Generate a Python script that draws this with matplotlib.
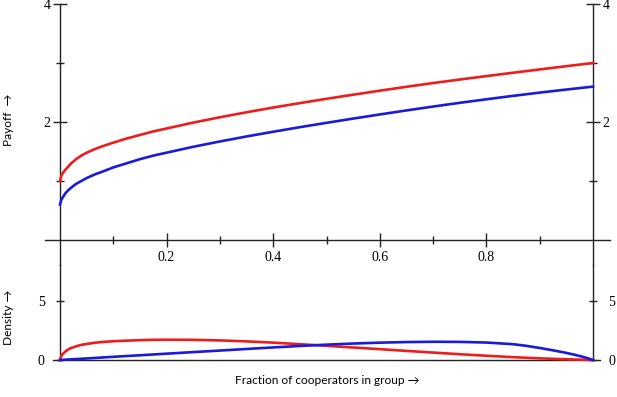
import matplotlib
matplotlib.use('Agg')
import matplotlib.pyplot as plt

# --- dados ---
x_grid = [0, 0.0025, 0.005, 0.01, 0.015, 0.02, 0.03, 0.04, 0.05, 0.065, 0.08, 0.1,
          0.125, 0.15, 0.175, 0.2, 0.25, 0.3, 0.35, 0.4, 0.45, 0.5, 0.55, 0.6,
          0.65, 0.7, 0.75, 0.8, 0.85, 0.9, 0.95, 1.0]
payoff_red = [1.00, 1.09, 1.13, 1.19, 1.24, 1.29, 1.37, 1.43, 1.48, 1.54, 1.59, 1.65,
              1.72, 1.78, 1.84, 1.89, 1.99, 2.08, 2.165, 2.245, 2.32, 2.393, 2.463, 2.531,
              2.597, 2.66, 2.72, 2.778, 2.835, 2.891, 2.946, 3.00]
payoff_blue = [0.60, 0.68, 0.72, 0.79, 0.84, 0.88, 0.95, 1.00, 1.05, 1.11, 1.16, 1.23,
               1.30, 1.37, 1.43, 1.48, 1.58, 1.67, 1.755, 1.835, 1.912, 1.986, 2.058, 2.128,
               2.196, 2.262, 2.325, 2.385, 2.443, 2.498, 2.55, 2.60]

density_red = [0, 0.35, 0.50, 0.72, 0.88, 1.00, 1.16, 1.28, 1.36, 1.46, 1.53, 1.59,
               1.64, 1.68, 1.71, 1.72, 1.71, 1.66, 1.58, 1.47, 1.34, 1.20, 1.06, 0.92,
               0.77, 0.63, 0.49, 0.36, 0.24, 0.14, 0.06, 0.0]

x_blue_density = [0, 0.05, 0.1, 0.15, 0.2, 0.25, 0.3, 0.35, 0.4, 0.45, 0.5, 0.55,
                  0.6, 0.65, 0.7, 0.75, 0.8, 0.85, 0.875, 0.9, 0.925, 0.95, 0.965,
                  0.98, 0.99, 1.0]
density_blue = [0, 0.13, 0.27, 0.40, 0.535, 0.67, 0.80, 0.935, 1.065, 1.19, 1.30, 1.395,
                1.47, 1.52, 1.545, 1.535, 1.48, 1.34, 1.20, 1.02, 0.82, 0.60, 0.45,
                0.28, 0.15, 0.0]

x_major = [0.2, 0.4, 0.6, 0.8]
x_minor = [0.1, 0.3, 0.5, 0.7, 0.9]
x_labels = ['0.2', '0.4', '0.6', '0.8']

RED = '#ee1c1c'
BLUE = '#1a1adb'
AXC = '#222222'
serif = 'Liberation Serif'
sans = ['Lato', 'DejaVu Sans']

W, H = 617, 397
fig = plt.figure(figsize=(W / 100, H / 100), dpi=100)

# geometria em pixels
x0px, ppx = 60, 533           # x=0 e pixels por unidade
xlim = (-0.03, 1.035)
ax_left = x0px + xlim[0] * ppx
ax_w = (xlim[1] - xlim[0]) * ppx
top_px, ppy_top = 4, 59       # y=4 no topo
ylim_top = (-0.42, 4.0)
split_px = top_px + (ylim_top[1] - ylim_top[0]) * ppy_top
base_px, ppy_bot = 360, 11.8
ylim_bot = (0, (base_px - split_px) / ppy_bot)

ax1 = fig.add_axes([ax_left / W, (H - split_px) / H, ax_w / W, (split_px - top_px) / H])
ax2 = fig.add_axes([ax_left / W, (H - base_px) / H, ax_w / W, (base_px - split_px) / H])

for ax in (ax1, ax2):
    ax.set_xlim(*xlim)
    ax.patch.set_alpha(0)
    ax.spines['top'].set_visible(False)
    for s in ('left', 'right', 'bottom'):
        ax.spines[s].set_color(AXC)
        ax.spines[s].set_linewidth(1)
    ax.spines['left'].set_position(('data', 0))
    ax.spines['right'].set_position(('data', 1))

linha = dict(lw=1.9, clip_on=False, zorder=3, solid_joinstyle='round')

# --- painel de payoff ---
ax1.plot(x_grid, payoff_red, color=RED, **linha)
ax1.plot(x_grid, payoff_blue, color=BLUE, **linha)
ax1.set_ylim(*ylim_top)
ax1.spines['bottom'].set_position(('data', 0))
ax1.spines['bottom'].set_bounds(-0.028, 1.032)
ax1.spines['left'].set_bounds(ylim_top[0], 4)
ax1.spines['right'].set_bounds(ylim_top[0], 4)
ax1.set_xticks(x_major)
ax1.set_xticks(x_minor, minor=True)
ax1.set_xticklabels(x_labels, fontfamily=serif, fontsize=10)
ax1.set_yticks([2, 4])
ax1.set_yticks([1, 3], minor=True)
ax1.tick_params(axis='x', which='major', direction='inout', length=10, width=1,
                color=AXC, pad=3, top=False)
ax1.tick_params(axis='x', which='minor', direction='inout', length=6, width=1,
                color=AXC, top=False)
ax1.tick_params(axis='y', which='major', direction='inout', length=10, width=1,
                color=AXC, left=True, right=True, labelleft=True, labelright=True, pad=2)
ax1.tick_params(axis='y', which='minor', direction='inout', length=6, width=1,
                color=AXC, left=True, right=True)
for lab in ax1.get_yticklabels():
    lab.set_fontfamily(serif)
    lab.set_fontsize(10)

# --- painel de densidade ---
ax2.plot(x_grid, density_red, color=RED, **linha)
ax2.plot(x_blue_density, density_blue, color=BLUE, **linha)
ax2.set_ylim(*ylim_bot)
ax2.spines['bottom'].set_bounds(-0.013, 1.013)
ax2.set_xticks([])
ax2.set_yticks([0, 5])
ax2.tick_params(axis='y', direction='inout', length=6, width=1, color=AXC,
                left=True, right=True, labelleft=True, labelright=True, pad=8)
for lab in ax2.get_yticklabels():
    lab.set_fontfamily(serif)
    lab.set_fontsize(10)

# rotulos dos eixos
fig.text(9 / W, (H - 120) / H, 'Payoff  \u2192', rotation=90, ha='center', va='center',
         family=sans, fontsize=8.6)
fig.text(9 / W, (H - 317) / H, 'Density \u2192', rotation=90, ha='center', va='center',
         family=sans, fontsize=8.6)
fig.text(327 / W, (H - 380) / H, 'Fraction of cooperators in group \u2192',
         ha='center', va='center', family=sans, fontsize=8.6)

fig.savefig('out.png', dpi=100)
